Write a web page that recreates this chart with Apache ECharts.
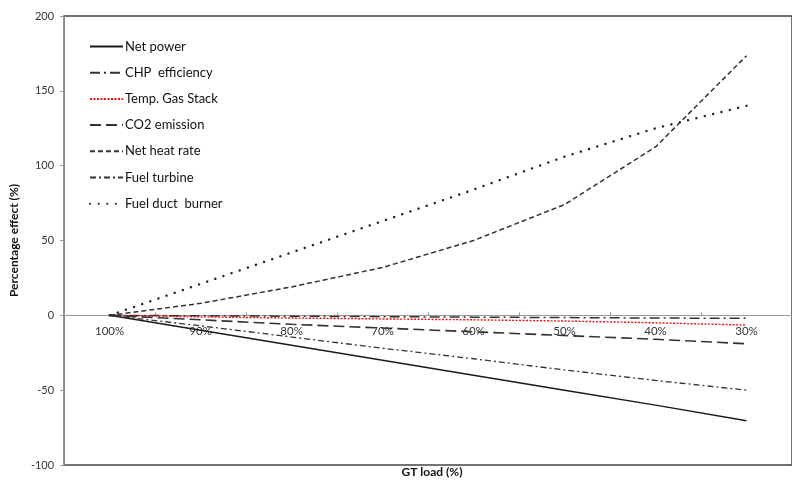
<!DOCTYPE html>
<html><head><meta charset="utf-8">
<script src="https://cdn.jsdelivr.net/npm/echarts@6/dist/echarts.min.js"></script>
<style>html,body{margin:0;padding:0;background:#fff}#c{width:792px;height:480px}</style>
</head><body><div id="c"></div>
<script>
var categories = ['100%','90%','80%','70%','60%','50%','40%','30%'];
var netPower      = [0, -10, -20, -30, -40, -50, -60, -70.5];
var chpEfficiency = [0, -0.3, -0.6, -0.9, -1.2, -1.5, -1.8, -2];
var tempGasStack  = [0, -1, -1.8, -2.4, -3, -3.8, -5, -6.5];
var co2Emission   = [0, -3, -6, -8.5, -11, -13.5, -16, -19];
var netHeatRate   = [0, 8, 19, 32, 50, 74, 112.5, 173.5];
var fuelTurbine   = [0, -7, -14.5, -22, -29, -36.5, -43.5, -50];
var fuelDuct      = [0, 21, 42, 63, 84, 106, 125, 140];
var yTicks = {min: -100, max: 200, step: 50};

var FONT = 'Lato, "Open Sans", sans-serif';
var GRID_TOP = 16, GRID_BOTTOM = 15, H = 480;
var plotH = H - GRID_TOP - GRID_BOTTOM;
var zeroOffset = -plotH * (0 - yTicks.min) / (yTicks.max - yTicks.min);

function s(name, data, color, width, dash, cap) {
  return {
    name: name, type: 'line', data: data, symbol: 'none', showSymbol: false, smooth: false,
    lineStyle: {color: color, width: width, type: dash, cap: cap || 'butt'},
    itemStyle: {color: color}, z: 3
  };
}
var chart = echarts.init(document.getElementById('c'), null, {renderer: 'canvas'});
chart.setOption({
  animation: false,
  backgroundColor: '#fff',
  grid: {left: 62, right: -12, top: GRID_TOP, bottom: GRID_BOTTOM, show: true, borderColor: '#444', borderWidth: 1.5, backgroundColor: 'transparent'},
  title: {text: 'GT load (%)', left: 427, top: 461, textAlign: 'center',
    textStyle: {fontFamily: FONT, fontSize: 12, fontWeight: 'bold', color: '#111'}},
  legend: {
    orient: 'vertical', left: 84, top: 35, itemGap: 13.2, itemWidth: 33, itemHeight: 13,
    itemStyle: {opacity: 0},
    textStyle: {fontFamily: FONT, fontSize: 13, color: '#111', padding: [0, 0, 0, -3]},
    data: ['Net power','CHP  efficiency','Temp. Gas Stack','CO2 emission','Net heat rate','Fuel turbine','Fuel duct  burner']
  },
  xAxis: {
    type: 'category', data: categories, boundaryGap: true, position: 'bottom', offset: zeroOffset,
    axisLine: {onZero: false, lineStyle: {color: '#999', width: 1.2}},
    axisTick: {show: true, inside: true, length: 3, lineStyle: {color: '#999'}},
    axisLabel: {fontFamily: FONT, fontSize: 11.5, color: '#333', margin: 10},
    splitLine: {show: false}
  },
  yAxis: {
    type: 'value', min: yTicks.min, max: yTicks.max, interval: yTicks.step,
    name: 'Percentage effect (%)', nameLocation: 'middle', nameGap: 35, nameRotate: 90,
    nameTextStyle: {fontFamily: FONT, fontSize: 12, fontWeight: 'bold', color: '#111'},
    axisLine: {show: true, lineStyle: {color: '#999', width: 1.5}},
    axisTick: {show: true, length: 4, lineStyle: {color: '#999'}},
    axisLabel: {fontFamily: FONT, fontSize: 11, color: '#333', margin: 10},
    splitLine: {show: false}
  },
  series: [
    s('Net power', netPower, '#1a1a1a', 1.5, 'solid'),
    s('CHP  efficiency', chpEfficiency, '#333', 1.5, [10, 4, 2, 4]),
    s('Temp. Gas Stack', tempGasStack, '#f01010', 1.4, [2, 1.5]),
    s('CO2 emission', co2Emission, '#333', 1.6, [11, 5]),
    s('Net heat rate', netHeatRate, '#333', 1.5, [5, 3]),
    s('Fuel turbine', fuelTurbine, '#333', 1.3, [6, 3, 2, 3]),
    s('Fuel duct  burner', fuelDuct, '#222', 2.4, [0.1, 8.5], 'round')
  ]
});
</script></body></html>
